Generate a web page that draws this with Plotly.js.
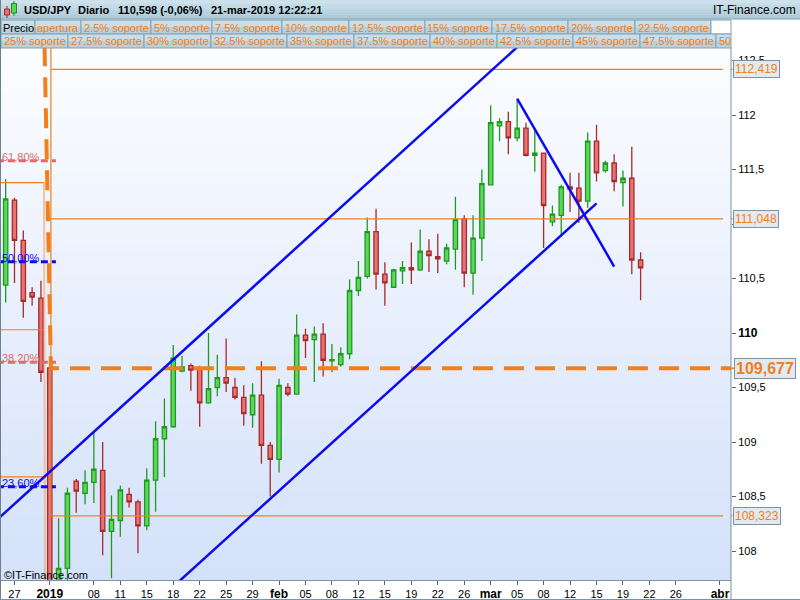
<!DOCTYPE html>
<html><head><meta charset="utf-8">
<script src="https://cdn.plot.ly/plotly-3.0.1.min.js"></script>
<style>html,body{margin:0;padding:0;background:#fff}#chart{width:800px;height:600px}</style>
</head><body><div id="chart"></div>
<script>
// ---------------- DATA ----------------
const dates = ['2018-12-26','2018-12-27','2018-12-28','2018-12-30','2018-12-31',
'2019-01-02','2019-01-03','2019-01-04','2019-01-06','2019-01-07','2019-01-08','2019-01-09','2019-01-10','2019-01-11',
'2019-01-13','2019-01-14','2019-01-15','2019-01-16','2019-01-17','2019-01-18',
'2019-01-20','2019-01-21','2019-01-22','2019-01-23','2019-01-24','2019-01-25',
'2019-01-27','2019-01-28','2019-01-29','2019-01-30','2019-01-31','2019-02-01',
'2019-02-03','2019-02-04','2019-02-05','2019-02-06','2019-02-07','2019-02-08',
'2019-02-10','2019-02-11','2019-02-12','2019-02-13','2019-02-14','2019-02-15',
'2019-02-17','2019-02-18','2019-02-19','2019-02-20','2019-02-21','2019-02-22',
'2019-02-24','2019-02-25','2019-02-26','2019-02-27','2019-02-28','2019-03-01',
'2019-03-03','2019-03-04','2019-03-05','2019-03-06','2019-03-07','2019-03-08',
'2019-03-10','2019-03-11','2019-03-12','2019-03-13','2019-03-14','2019-03-15',
'2019-03-17','2019-03-18','2019-03-19','2019-03-20','2019-03-21'];

const open = [110.44,111.22,110.85,110.37,110.32,
109.68,107.60,107.84,108.64,108.53,108.63,108.74,108.18,108.28,
108.52,108.45,108.23,108.65,109.03,109.14,
109.65,109.70,109.68,109.36,109.50,109.59,
109.50,109.41,109.25,109.43,108.97,108.84,
109.50,109.44,109.98,109.94,109.99,109.745,
109.71,109.81,110.39,110.52,110.93,110.54,
110.42,110.57,110.60,110.58,110.75,110.70,
110.66,110.77,111.05,110.55,110.87,111.36,
111.90,111.94,111.79,111.88,111.63,111.65,
111.02,111.08,111.34,111.33,111.21,111.76,
111.49,111.56,111.38,111.42,110.67];

const high = [111.41,111.24,110.94,110.42,110.48,
109.72,108.30,108.58,108.66,108.74,109.09,109.00,108.51,108.60,
108.58,108.47,108.76,109.19,109.40,109.89,
109.79,109.72,109.70,110.00,109.80,109.95,
109.59,109.52,109.54,109.74,109.00,109.58,
109.54,110.17,110.04,110.06,110.09,109.90,
109.87,110.49,110.66,111.06,111.14,110.65,
110.59,110.66,110.83,110.95,110.86,110.91,
110.82,111.25,111.08,111.08,111.50,112.09,
111.97,112.03,112.14,111.93,111.86,111.65,
111.17,111.36,111.47,111.47,111.84,111.91,
111.58,111.64,111.49,111.71,110.74];

const low = [110.28,110.46,110.14,110.25,109.55,
104.90,107.20,107.62,108.35,108.43,108.44,107.96,107.75,108.13,
108.40,107.98,108.19,108.36,108.68,109.13,
109.64,109.47,109.14,109.35,109.42,109.46,
109.39,109.15,109.13,108.80,108.50,108.72,
109.42,109.44,109.77,109.55,109.60,109.64,
109.69,109.76,110.34,110.50,110.40,110.25,
110.42,110.45,110.45,110.57,110.56,110.55,
110.63,110.58,110.42,110.35,110.66,111.36,
111.76,111.64,111.76,111.62,111.48,110.78,
110.98,110.89,111.11,111.01,111.15,111.39,
111.47,111.30,111.16,110.54,110.30];

const close = [111.23,110.85,110.29,110.33,109.64,
107.60,107.84,108.53,108.55,108.63,108.75,108.18,108.29,108.56,
108.45,108.23,108.65,109.03,109.14,109.77,
109.69,109.66,109.36,109.49,109.59,109.54,
109.41,109.26,109.43,108.97,108.84,109.52,
109.44,109.98,109.93,109.99,109.75,109.755,
109.81,110.39,110.51,110.93,110.54,110.46,
110.58,110.60,110.58,110.75,110.71,110.68,
110.78,111.04,110.55,110.87,111.37,111.93,
111.94,111.79,111.88,111.63,111.65,111.17,
111.09,111.34,111.32,111.21,111.76,111.47,
111.56,111.39,111.42,110.67,110.598];

const leadDates = ['2018-12-24'];
const futureDates = ['2019-03-22','2019-03-24','2019-03-25','2019-03-26','2019-03-27','2019-03-28','2019-03-29','2019-03-31','2019-04-01','2019-04-02'];

const tickDates = ['2018-12-27','2019-01-02','2019-01-08','2019-01-11','2019-01-15','2019-01-18','2019-01-22','2019-01-25','2019-01-29',
'2019-02-01','2019-02-05','2019-02-08','2019-02-12','2019-02-15','2019-02-19','2019-02-22','2019-02-26',
'2019-03-01','2019-03-05','2019-03-08','2019-03-12','2019-03-15','2019-03-19','2019-03-22','2019-03-26','2019-04-01'];
const tickLabels = ['27','2019','08','11','15','18','22','25','29','feb','05','08','12','15','19','22','26','mar','05','08','12','15','19','22','26','abr'];
const tickStrong = ['2019','feb','mar','abr'];

const yTickVals = [108,108.5,109,109.5,110,110.5,111,111.5,112,112.5];
const yTickText = ['108','108,5','109','109,5','110','110,5','111','111,5','112','112,5'];
const yTickStrong = ['110'];

const fibLevels = [111.58,110.654,109.731,108.59];
const fibLabels = ['61,80%','50,00%','38,20%','23,60%'];
const pivots2018 = [111.38,110.03,108.68];
const pivots2019 = [112.419,111.048,108.323];
const pivotLabels2019 = ['112,419','111,048','108,323'];
const keyLevel = 109.677;
const keyLabel = '109,677';

// trend lines: [date, price] endpoints
const channelUpper = [['2018-12-24',108.285],['2019-03-07',112.77]];
const channelLower = [['2019-01-14',107.38],['2019-03-15',111.19]];
const downLine = [['2019-03-05',112.15],['2019-03-18',110.61]];

// ---------------- HELPERS ----------------
const axisDates = leadDates.concat(dates, futureDates);
const pos = d => axisDates.indexOf(d);
const FONT = 'Liberation Sans, Arial, sans-serif';
const ORANGE = '#F07F1C';
const BLUE = '#0B0BEF';
const SALMON = '#E36A6A';
const L=1,R=731,T=48,B=580;
const px = x => (x-L)/(R-L);
const py = y => (B-y)/(B-T);
const xMin = pos('2018-12-26')-0.53, xMax = pos('2019-04-01')+1.25;
const yMin = 107.734, yMax = 112.615;

const shapes=[], annotations=[];
function mix(a,b,t){return 'rgb('+a.map((v,i)=>Math.round(v+(b[i]-v)*t)).join(',')+')';}
// plot background gradient
const NB=60;
for(let i=0;i<NB;i++){
  shapes.push({type:'rect',xref:'paper',yref:'paper',x0:0,x1:1,y0:1-(i+1)/NB,y1:1-i/NB+0.001,
    fillcolor:mix([252,253,255],[212,225,250],(i+0.5)/NB),line:{width:0},layer:'below'});
}
function rectPx(x0,y0,x1,y1,fill,line){
  shapes.push({type:'rect',xref:'paper',yref:'paper',x0:px(x0),x1:px(x1),y0:py(y1),y1:py(y0),
    fillcolor:fill,line:line?{color:line,width:1}:{width:0},layer:'above'});
}
function linePx(x0,y0,x1,y1,color,w){
  shapes.push({type:'line',xref:'paper',yref:'paper',x0:px(x0),x1:px(x1),y0:py(y0),y1:py(y1),line:{color:color,width:w||1},layer:'above'});
}
function textPx(x,y,text,opt){
  annotations.push(Object.assign({xref:'paper',yref:'paper',x:px(x),y:py(y),text:text,showarrow:false,
    xanchor:'left',yanchor:'middle',font:{family:FONT,size:11,color:'#000'},borderpad:0},opt||{}));
}

// header row 1
const H1=19;
for(let i=0;i<8;i++){ rectPx(0,i*H1/8,800,(i+1)*H1/8+0.3,mix([206,227,237],[168,199,213],(i+0.5)/8)); }
linePx(0,H1,800,H1,'#8CA3B2',1);
// small icon
linePx(7,6,7,18,'#A52A2A',1); rectPx(4.5,9,9.5,15,'#E86F6F','#A52A2A');
linePx(14,1,14,16,'#1E8E1E',1); rectPx(11.5,3.5,16.5,13,'#5BD65B','#1E8E1E');
textPx(23,10,'<b>USD/JPY</b>',{font:{family:FONT,size:11,color:'#000'}});
textPx(77,10,'<b>Diario</b>',{font:{family:FONT,size:11,color:'#000'}});
textPx(117,10,'<b>110,598 (-0,06%)</b>',{font:{family:FONT,size:11,color:'#000'}});
textPx(210,10,'<b>21-mar-2019 12:22:21</b>',{font:{family:FONT,size:11,color:'#000'}});
textPx(797,10,'IT-Finance.com',{xanchor:'right',font:{family:FONT,size:12,color:'#000'}});

// header rows 2-3 (buttons)
const row2 = [[1,35,'Precio'],[35,81,'apertura'],[81,151,'2.5% soporte'],[151,212,'5% soporte'],[212,282,'7.5% soporte'],
 [282,349,'10% soporte'],[349,425,'12.5% soporte'],[425,492,'15% soporte'],[492,568,'17.5% soporte'],[568,635,'20% soporte'],[635,711,'22.5% soporte']];
const row3 = [[1,68,'25% soporte'],[68,144,'27.5% soporte'],[144,211,'30% soporte'],[211,287,'32.5% soporte'],[287,354,'35% soporte'],
 [354,430,'37.5% soporte'],[430,497,'40% soporte'],[497,573,'42.5% soporte'],[573,640,'45% soporte'],[640,716,'47.5% soporte'],[716,731,'50']];
function buttonRow(row,y0,y1){
  row.forEach(([a,b,t],k)=>{
    rectPx(a,y0,b,(y0+y1)/2,'#C9DEE8'); rectPx(a,(y0+y1)/2,b,y1,'#B7D0DD');
    rectPx(a,y0,b,y1,'rgba(0,0,0,0)','#86A0B0');
    if(t==='50') textPx(a+2,(y0+y1)/2+0.5,t,{font:{family:FONT,size:11,color:ORANGE}});
    else textPx((a+b)/2,(y0+y1)/2+0.5,t,{xanchor:'center',font:{family:FONT,size:11,color:(t==='Precio'?'#000':ORANGE)}});
  });
}
buttonRow(row2,20,34);
rectPx(711,20,731,34,'#FFFFFF','#86A0B0');
buttonRow(row3,34,48);

// frame lines
linePx(0.5,0,0.5,600,'#6F808D',1);
linePx(731,48,731,600,'#7D93A3',1);
linePx(0,599.5,800,599.5,'#7D93A3',1);

// copyright
textPx(3,575,'©IT-Finance.com',{font:{family:FONT,size:11,color:'#000'}});

// fib labels
const fibColors = [SALMON,BLUE,SALMON,BLUE];
fibLevels.forEach((v,i)=>{
  annotations.push({xref:'paper',yref:'y',x:0,y:v,text:fibLabels[i],showarrow:false,xanchor:'left',yanchor:'bottom',
    yshift:-3,borderpad:0,font:{family:FONT,size:11,color:fibColors[i]}});
});

// right-side price boxes
pivots2019.forEach((v,i)=>{
  shapes.push({type:'line',xref:'paper',yref:'y',x0:px(731),x1:px(736),y0:v,y1:v,line:{color:ORANGE,width:1}});
  annotations.push({xref:'paper',yref:'y',x:px(733),y:v,text:pivotLabels2019[i],showarrow:false,xanchor:'left',yanchor:'middle',
    bgcolor:'#E1EAF1',bordercolor:'#7D93A3',borderwidth:1,borderpad:1,font:{family:FONT,size:12,color:ORANGE}});
});
shapes.push({type:'line',xref:'paper',yref:'y',x0:px(731),x1:px(736),y0:keyLevel,y1:keyLevel,line:{color:ORANGE,width:1.5}});
annotations.push({xref:'paper',yref:'y',x:px(734),y:keyLevel,text:'<b>'+keyLabel+'</b>',showarrow:false,xanchor:'left',yanchor:'middle',
  bgcolor:'#E1EAF1',bordercolor:'#7D93A3',borderwidth:1,borderpad:1,font:{family:FONT,size:16,color:ORANGE}});

// ---------------- TRACES ----------------
const traces = [];
traces.push({type:'candlestick',x:dates.map(pos),open:open,high:high,low:low,close:close,
  increasing:{line:{color:'#1F9A1F',width:1.3},fillcolor:'#5CD65C'},
  decreasing:{line:{color:'#A62B2B',width:1.3},fillcolor:'#E97272'},
  whiskerwidth:0,hoverinfo:'skip',showlegend:false});
traces.push({type:'scatter',mode:'markers',x:futureDates.map(pos),y:futureDates.map(()=>null),showlegend:false,hoverinfo:'skip'});

function seg(x,y,color,width,dash,opacity){
  traces.push({type:'scatter',mode:'lines',x:x,y:y,line:{color:color,width:width,dash:dash||'solid'},opacity:opacity||1,showlegend:false,hoverinfo:'skip'});
}
// 2018 pivots (left)
const leftEnd = pos('2018-12-31')+0.34;
pivots2018.forEach(v=>seg([pos('2018-12-24'),leftEnd],[v,v],ORANGE,1.2));
seg([leftEnd,leftEnd+0.15],[pivots2018[0],yMin-0.5],'#F2A46A',2,null,0.6);
// 2019 pivots (right)
const rightStart = pos('2019-01-02')+0.13, rightEnd = pos('2019-04-01')+0.35;
pivots2019.forEach(v=>seg([rightStart,rightEnd],[v,v],ORANGE,1.2));
seg([rightStart,rightStart],[yMax+0.3,pivots2019[2]],ORANGE,1.2);
// fibonacci levels
fibLevels.forEach((v,i)=>seg([pos('2018-12-24'),pos('2019-01-02')+0.7],[v,v],fibColors[i],3,'7px,4px'));
// key level thick dashed
seg([pos('2018-12-31')+0.34,rightStart,xMax+1],[yMax+0.3,keyLevel,keyLevel],ORANGE,4,'20px,11px');
// trend lines
[channelUpper,channelLower,downLine].forEach(l=>seg(l.map(p=>pos(p[0])),l.map(p=>p[1]),BLUE,2.5));

// ---------------- LAYOUT ----------------
const layout = {
  width:800,height:600,
  margin:{l:L,r:800-R,t:T,b:600-B,pad:0},
  paper_bgcolor:'#FFFFFF',plot_bgcolor:'#FFFFFF',
  showlegend:false,
  font:{family:FONT,size:11,color:'#000'},
  xaxis:{type:'linear',range:[xMin,xMax],rangeslider:{visible:false},fixedrange:true,
    tickmode:'array',tickvals:tickDates.map(pos),
    ticktext:tickLabels.map(t=>tickStrong.includes(t)?'<span style="font-size:12px"><b>'+t+'</b></span>':t),
    ticks:'outside',ticklen:4,tickcolor:'#5A6670',tickfont:{family:FONT,size:11,color:'#000'},
    showgrid:false,zeroline:false,showline:true,linecolor:'#7D93A3',automargin:false},
  yaxis:{side:'right',range:[yMin,yMax],fixedrange:true,tickmode:'array',tickvals:yTickVals,
    ticktext:yTickText.map(t=>yTickStrong.includes(t)?'<span style="font-size:12px"><b>'+t+'</b></span>':t),
    ticks:'outside',ticklen:4,tickcolor:'#5A6670',tickfont:{family:FONT,size:11,color:'#000'},
    showgrid:false,zeroline:false,showline:false,automargin:false},
  shapes:shapes,annotations:annotations
};
Plotly.newPlot('chart',traces,layout,{staticPlot:true,displayModeBar:false});
</script></body></html>
